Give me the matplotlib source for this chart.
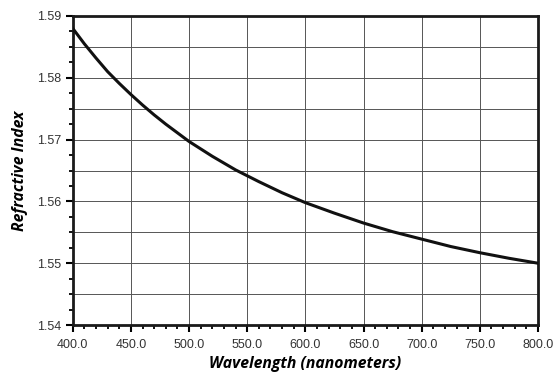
import matplotlib.pyplot as plt
from matplotlib.ticker import MultipleLocator, FormatStrFormatter

# wavelength (nm) and refractive index
wavelength = [400, 410, 420, 430, 440, 450, 460, 470, 480, 490, 500,
              520, 540, 560, 580, 600, 625, 650, 675, 700, 725, 750, 775, 800]
refr_index = [1.5880, 1.5855, 1.5832, 1.5810, 1.5791, 1.5773, 1.5756, 1.5740,
              1.5725, 1.5711, 1.5697, 1.5673, 1.5651, 1.5632, 1.5614, 1.5598,
              1.5581, 1.5565, 1.5551, 1.5539, 1.5527, 1.5517, 1.5508, 1.5500]


def main():
    fig = plt.figure(figsize=(5.56, 3.72), dpi=100)
    ax = fig.add_axes([0.1308, 0.1263, 0.8368, 0.8307])

    ax.plot(wavelength, refr_index, color="#111111", linewidth=2.2, zorder=3,
            solid_joinstyle="round")

    ax.set_xlim(400, 800)
    ax.set_ylim(1.54, 1.59)

    ax.xaxis.set_major_locator(MultipleLocator(50))
    ax.xaxis.set_minor_locator(MultipleLocator(10))
    ax.xaxis.set_major_formatter(FormatStrFormatter("%.1f"))
    ax.yaxis.set_major_locator(MultipleLocator(0.01))
    ax.yaxis.set_minor_locator(MultipleLocator(0.0025))
    ax.yaxis.set_major_formatter(FormatStrFormatter("%.2f"))

    # grid: every 50 nm and every 0.005
    for x in range(450, 800, 50):
        ax.axvline(x, color="#555555", linewidth=0.7, zorder=1)
    for k in range(1, 10):
        ax.axhline(1.54 + 0.005 * k, color="#555555", linewidth=0.7, zorder=1)

    ax.tick_params(which="major", direction="out", length=5, width=1.5,
                   labelsize=9, labelcolor="#333333", pad=3)
    ax.tick_params(axis="x", which="major", pad=5)
    ax.tick_params(which="minor", direction="out", length=3, width=1.3)
    for lab in ax.get_xticklabels() + ax.get_yticklabels():
        lab.set_family("Liberation Sans")

    for s in ax.spines.values():
        s.set_linewidth(2.0)
        s.set_color("#1a1a1a")

    ax.set_xlabel("Wavelength (nanometers)", family="Open Sans", fontsize=11.3,
                  fontweight="bold", fontstyle="italic", labelpad=4)
    ax.set_ylabel("Refractive Index", family="Open Sans", fontsize=11.3,
                  fontweight="bold", fontstyle="italic", labelpad=7)

    fig.savefig("out.png", dpi=100)


if __name__ == "__main__":
    main()
